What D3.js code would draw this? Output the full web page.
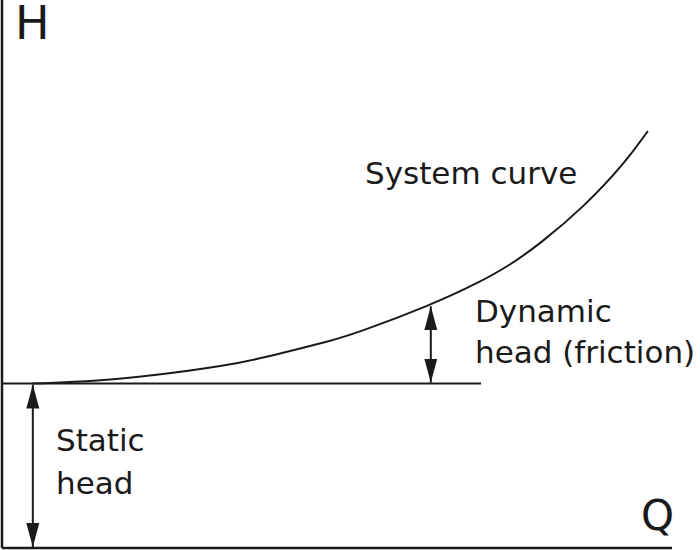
<!DOCTYPE html>
<html>
<head>
<meta charset="utf-8">
<script src="https://cdn.jsdelivr.net/npm/d3@7"></script>
<style>
  html, body { margin: 0; padding: 0; background: #fff; }
  svg { display: block; }
  text { font-family: "DejaVu Sans", sans-serif; fill: #1a1a1a; }
</style>
</head>
<body>
<svg id="chart" width="700" height="550"></svg>
<script>
// system curve (Q, H in arbitrary units)
const flowQ = [0.46, 1.46, 2.21, 3.33, 4.0, 4.45, 4.9, 5.27, 6.4, 7.13, 7.58, 8.03, 8.7, 9.3, 9.64];
const headH = [3.0, 3.05, 3.14, 3.32, 3.5, 3.64, 3.78, 3.91, 4.43, 4.85, 5.16, 5.55, 6.24, 7.03, 7.61];
const staticHead = 3.0;
const staticLineEnd = 7.15;
const staticArrowQ = 0.46;
const dynamicArrowIdx = 8;
const axisLabels = ["H", "Q"];

const svg = d3.select("#chart");
const ink = "#1a1a1a";

const x = d3.scaleLinear().domain([0, 10]).range([2, 672]);
const y = d3.scaleLinear().domain([0, 10]).range([548, 0]);

// arrowheads
const defs = svg.append("defs");
defs.append("marker")
  .attr("id", "head")
  .attr("markerUnits", "userSpaceOnUse")
  .attr("viewBox", "0 -7 24 14")
  .attr("refX", 24).attr("refY", 0)
  .attr("markerWidth", 24).attr("markerHeight", 14)
  .attr("orient", "auto-start-reverse")
  .append("path")
  .attr("d", "M0,-6.5L24,0L0,6.5Z")
  .attr("fill", ink);

// axes
svg.append("line")
  .attr("x1", x(0)).attr("x2", x(0))
  .attr("y1", y(10)).attr("y2", y(0))
  .attr("stroke", ink).attr("stroke-width", 2.5);
svg.append("line")
  .attr("x1", x(0)).attr("x2", x(10))
  .attr("y1", y(0)).attr("y2", y(0))
  .attr("stroke", ink).attr("stroke-width", 2.5);

// static head level
svg.append("line")
  .attr("x1", x(0)).attr("x2", x(staticLineEnd))
  .attr("y1", y(staticHead)).attr("y2", y(staticHead))
  .attr("stroke", ink).attr("stroke-width", 2);

// system curve (basis spline to smooth out reading errors)
const pts = flowQ.map((q, i) => [q, headH[i]]);
const line = d3.line()
  .x(d => x(d[0]))
  .y(d => y(d[1]))
  .curve(d3.curveBasis);
svg.append("path")
  .datum(pts)
  .attr("d", line)
  .attr("fill", "none")
  .attr("stroke", ink)
  .attr("stroke-width", 2);

// double arrows
function arrow(q, h0, h1) {
  svg.append("line")
    .attr("x1", x(q)).attr("x2", x(q))
    .attr("y1", y(h0) - 1).attr("y2", y(h1) + 1)
    .attr("stroke", ink).attr("stroke-width", 2)
    .attr("marker-start", "url(#head)")
    .attr("marker-end", "url(#head)");
}
arrow(staticArrowQ, 0, staticHead);
arrow(flowQ[dynamicArrowIdx], staticHead, headH[dynamicArrowIdx]);

// labels
svg.append("text").attr("x", 15).attr("y", 39)
  .style("font-size", "46px").text(axisLabels[0]);
svg.append("text").attr("x", 641).attr("y", 530)
  .style("font-size", "42px").text(axisLabels[1]);

const notes = [
  {x: 365, y: 184, t: "System curve"},
  {x: 475, y: 322, t: "Dynamic"},
  {x: 475, y: 363, t: "head (friction)"},
  {x: 56, y: 451, t: "Static"},
  {x: 56, y: 494, t: "head"}
];
svg.selectAll("text.note")
  .data(notes)
  .join("text")
  .attr("class", "note")
  .attr("x", d => d.x)
  .attr("y", d => d.y)
  .style("font-size", "31px")
  .text(d => d.t);
</script>
</body>
</html>
